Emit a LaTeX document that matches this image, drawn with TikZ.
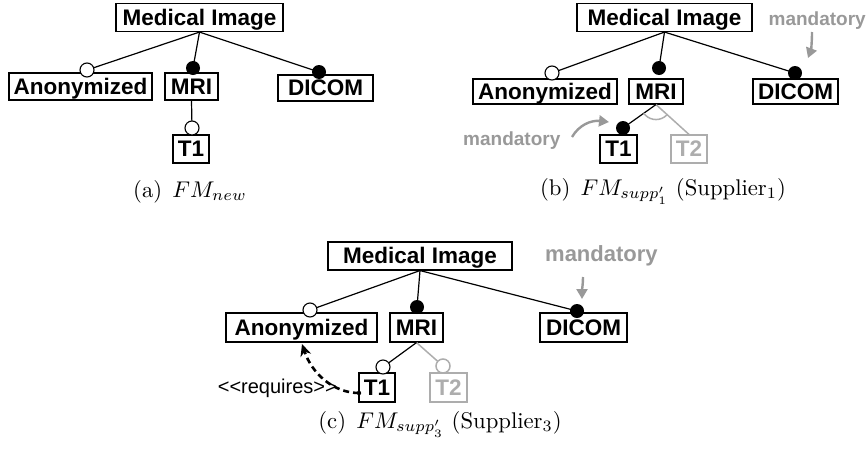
\documentclass[tikz,border=0pt]{standalone}
\usepackage{fontspec}
\newfontfamily\labfont{Liberation Sans}
\usetikzlibrary{calc,arrows.meta}
\definecolor{notegray}{gray}{0.6}
\definecolor{altgray}{gray}{0.68}
\newcommand{\captxt}[1]{\scalebox{2.27}{#1}}
\begin{document}
\begin{tikzpicture}[x=1pt,y=-1pt]
\tikzset{
  feat/.style={draw, line width=1.1pt, inner sep=0pt, text height=20pt, text depth=5pt,
    font=\labfont\bfseries\fontsize{22.5}{26}\selectfont, minimum height=28pt},
  altfeat/.style={feat, draw=altgray, text=altgray},
  link/.style={line width=1.2pt},
  altlink/.style={line width=1.5pt, altgray},
  opt/.style={circle, draw, fill=white, line width=1.1pt, minimum size=14pt, inner sep=0pt},
  altopt/.style={opt, draw=altgray, line width=1.5pt},
  mand/.style={circle, fill=black, minimum size=14pt, inner sep=0pt},
  notetext/.style={inner sep=0pt, text=notegray, font=\labfont\bfseries\fontsize{19}{22}\selectfont},
  notearrow/.style={line width=2.4pt, notegray, -{Triangle[length=10pt,width=11pt]}},
  captext/.style={inner sep=0pt, font=\fontsize{10}{12}\selectfont},
}
\useasboundingbox (0,0) rectangle (867,453);

% ---------- (a) FM_new ----------
\node[feat, minimum width=167pt] (MIa) at (199.5,17.5) {Medical Image};
\node[feat, minimum width=143pt, minimum height=27pt] (ANa) at (80.5,86.5) {Anonymized};
\node[feat, minimum width=53pt, minimum height=27pt] (MRa) at (191.5,86.5) {MRI};
\node[feat, minimum width=95pt, minimum height=26pt] (DIa) at (325.5,88) {DICOM};
\node[feat, minimum width=36pt] (T1a) at (191,149) {T1};
\draw[link] (MIa.south) -- (87,70) coordinate (pANa);
\draw[link] (MIa.south) -- (193,68) coordinate (pMRa);
\draw[link] (MIa.south) -- (319,72) coordinate (pDIa);
\draw[link] (MRa.south) -- (192,128) coordinate (pT1a);
\node[opt] (oANa) at (pANa) {};
\node[mand] (oMRa) at (pMRa) {};
\node[mand] (oDIa) at (pDIa) {};
\node[opt] (oT1a) at (pT1a) {};
\node[captext, anchor=base] (capA) at (190,197) {\captxt{(a)\hspace{0.45em}$FM_{new}$}};

% ---------- (b) FM_supp'1 ----------
\node[feat, minimum width=175pt] (MIb) at (664.5,17.5) {Medical Image};
\node[feat, minimum width=144pt, minimum height=25pt] (ANb) at (545,91.5) {Anonymized};
\node[feat, minimum width=54pt, minimum height=25pt] (MRb) at (656,91.5) {MRI};
\node[feat, minimum width=85pt, minimum height=25pt] (DIb) at (795.5,91.5) {DICOM};
\node[feat, minimum width=37pt] (T1b) at (618.5,149) {T1};
\node[altfeat, minimum width=36pt] (T2b) at (689,149) {T2};
\draw[link] (MIb.south) -- (552,73) coordinate (pANb);
\draw[link] (MIb.south) -- (659,68) coordinate (pMRb);
\draw[link] (MIb.south) -- (795,73) coordinate (pDIb);
\draw[altlink] (MRb.south) -- (T2b.north);
\draw[link] (MRb.south) -- (623,128) coordinate (pT1b);
% group arc between the two children of MRI
\begin{scope}
  \clip (MRb.south) -- ($(MRb.south)!40pt!(pT1b)$) -- ($(MRb.south)!40pt!(T2b.north)$) -- cycle;
  \draw[altlink] (MRb.south) circle (15pt);
\end{scope}
\node[opt] (oANb) at (pANb) {};
\node[mand] (oMRb) at (pMRb) {};
\node[mand] (oDIb) at (pDIb) {};
\node[mand] (oT1b) at (pT1b) {};
\node[notetext, anchor=base east] (mandB1) at (866,25) {mandatory};
\coordinate (aB1s) at (812,32);
\coordinate (aB1e) at (808,58);
\draw[notearrow] (aB1s) .. controls (812,42) and (811,50) .. (aB1e);
\node[notetext, anchor=base west] (mandB2) at (463,145) {mandatory};
\coordinate (aB2s) at (572,137);
\coordinate (aB2e) at (609,122);
\draw[notearrow] (aB2s) .. controls (579,125) and (591,120) .. (aB2e);
\node[captext, anchor=base] (capB) at (663,195) {\captxt{(b)\hspace{0.45em}$FM_{supp'_1}$ (Supplier$_1$)}};

% ---------- (c) FM_supp'3 ----------
\node[feat, minimum width=184pt] (MIc) at (420,256) {Medical Image};
\node[feat, minimum width=151pt, minimum height=29pt] (ANc) at (301.5,327.5) {Anonymized};
\node[feat, minimum width=53pt, minimum height=29pt] (MRc) at (416.5,327.5) {MRI};
\node[feat, minimum width=87pt, minimum height=29pt] (DIc) at (583.5,327.5) {DICOM};
\node[feat, minimum width=36pt, minimum height=29pt] (T1c) at (377,387.5) {T1};
\node[altfeat, minimum width=37pt, minimum height=29pt] (T2c) at (448.5,387.5) {T2};
\draw[link] (MIc.south) -- (310,310) coordinate (pANc);
\draw[link] (MIc.south) -- (417,307) coordinate (pMRc);
\draw[link] (MIc.south) -- (577,311) coordinate (pDIc);
\draw[altlink] (MRc.south) -- (443,366) coordinate (pT2c);
\draw[link] (MRc.south) -- (383,367) coordinate (pT1c);
\node[opt] (oANc) at (pANc) {};
\node[mand] (oMRc) at (pMRc) {};
\node[mand] (oDIc) at (pDIc) {};
\node[opt] (oT1c) at (pT1c) {};
\node[altopt] (oT2c) at (pT2c) {};
\node[notetext, anchor=base west, font=\labfont\bfseries\fontsize{22}{26}\selectfont] (mandC) at (545,261) {mandatory};
\coordinate (aCs) at (583,277);
\coordinate (aCe) at (582,299);
\draw[notearrow] (aCs) .. controls (583,284) and (582,290) .. (aCe);
% requires constraint
\node[inner sep=0pt, anchor=base east, font=\labfont\fontsize{20}{24}\selectfont] (reqLab) at (337,393) {<<requires>>};
\coordinate (reqS) at (359,393);
\coordinate (reqE) at (302,344);
\fill (reqS) circle (2.2pt);
\draw[line width=2.6pt, dash pattern=on 6pt off 4pt, -{Stealth[length=12pt,width=11pt]}]
  (reqS) .. controls (334,393) and (312,374) .. (reqE);
\node[captext, anchor=base] (capC) at (440,428) {\captxt{(c)\hspace{0.45em}$FM_{supp'_3}$ (Supplier$_3$)}};
\end{tikzpicture}
\end{document}
